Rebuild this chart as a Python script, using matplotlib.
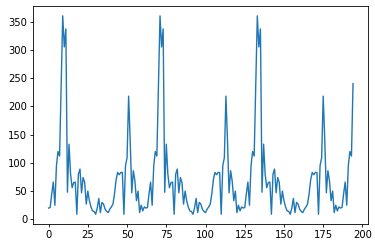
import matplotlib
matplotlib.use("Agg")
import matplotlib.pyplot as plt

values = [
    20, 21, 45, 66, 25, 95, 120, 112, 240, 360, 305, 337, 48, 133, 80, 56, 65, 66, 9, 80,
    89, 47, 74, 65, 27, 50, 33, 22, 15, 14, 9, 20, 37, 12, 30, 27, 18, 14, 12, 18,
    22, 27, 45, 70, 83, 79, 83, 83, 9, 95, 109, 218, 139, 47, 86, 68, 33, 50, 12, 25,
    15, 22,
    20, 21, 45, 66, 25, 95, 120, 112, 240, 360, 305, 337, 48, 133, 80, 56, 65, 66, 9, 80,
    89, 47, 74, 65, 27, 50, 33, 22, 15, 14, 9, 20, 37, 12, 30, 27, 18, 14, 12, 18,
    22, 27, 45, 70, 83, 79, 83, 83, 9, 95, 109, 218, 139, 47, 86, 68, 33, 50, 12, 25,
    15, 22,
    20, 21, 45, 66, 25, 95, 120, 112, 240, 360, 305, 337, 48, 133, 80, 56, 65, 66, 9, 80,
    89, 47, 74, 65, 27, 50, 33, 22, 15, 14, 9, 20, 37, 12, 30, 27, 18, 14, 12, 18,
    22, 27, 45, 70, 83, 79, 83, 83, 9, 95, 109, 218, 139, 47, 86, 68, 33, 50, 12, 25,
    15, 22,
    20, 21, 45, 66, 25, 95, 120, 112, 240,
]
x_ticks = [0, 25, 50, 75, 100, 125, 150, 175, 200]
y_ticks = [0, 50, 100, 150, 200, 250, 300, 350]

fig = plt.figure(figsize=(3.75, 2.48), dpi=100)
ax = fig.add_axes([0.089, 0.096, 0.893, 0.880])
ax.plot(range(len(values)), values, color="#1f77b4", linewidth=1.0)
ax.set_xticks(x_ticks)
ax.set_yticks(y_ticks)
ax.tick_params(labelsize=7.2, length=2.5, width=0.6, pad=2)
for s in ax.spines.values():
    s.set_linewidth(0.6)
fig.savefig("out.png", dpi=100)
